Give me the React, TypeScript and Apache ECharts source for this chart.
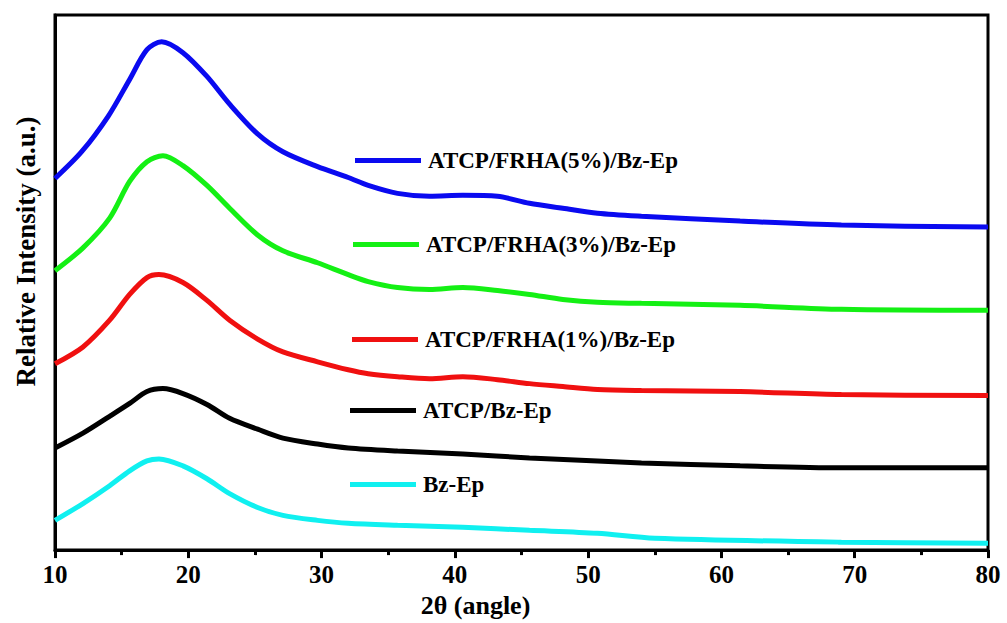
import React, { useEffect, useRef } from "react";
import * as echarts from "echarts";

const xTicks = [10, 20, 30, 40, 50, 60, 70, 80];

const seriesNames = [
  "ATCP/FRHA(5%)/Bz-Ep",
  "ATCP/FRHA(3%)/Bz-Ep",
  "ATCP/FRHA(1%)/Bz-Ep",
  "ATCP/Bz-Ep",
  "Bz-Ep",
];
const seriesColors = ["#0a0af0", "#14f014", "#f01010", "#000000", "#10f0f0"];

const frha5: number[][] = [
  [10, 375], [12, 402], [14, 438], [15.6, 475], [16.9, 505], [18, 513], [19.6, 502],
  [21.4, 478], [23.1, 450], [25.2, 420], [27.1, 402], [29.7, 387], [32, 376],
  [33.5, 368], [35.7, 360], [38.1, 357], [40.6, 358], [43.2, 357], [45.6, 350],
  [48.1, 345], [50.7, 340], [54, 337], [61.4, 332], [69, 328], [80, 326],
];
const frha3: number[][] = [
  [10, 282], [12.1, 305], [14.1, 335], [15.6, 372], [16.9, 392], [18.1, 398],
  [19.6, 388], [21.4, 368], [23.1, 345], [25.2, 318], [27.1, 302], [29.7, 290],
  [32, 278], [33.5, 271], [35.7, 265], [38.1, 263], [40.6, 265], [43.2, 262],
  [45.6, 258], [48.1, 253], [50.7, 250], [54, 249], [61.4, 247], [69, 243], [80, 242],
];
const frha1: number[][] = [
  [10, 188], [12.1, 205], [14.1, 232], [15.6, 258], [16.9, 275], [17.8, 278],
  [19.6, 270], [21.4, 252], [23.1, 232], [25.2, 213], [27.1, 200], [29.7, 190],
  [32, 182], [33.5, 178], [35.7, 175], [38.1, 173], [40.6, 175], [43.2, 172],
  [45.6, 168], [48.1, 165], [50.7, 162], [54, 161], [61.4, 160], [69, 157], [80, 156],
];
const atcp: number[][] = [
  [10, 103], [12.1, 118], [14.1, 135], [15.6, 148], [16.9, 160], [18.1, 163],
  [19.6, 158], [21.4, 147], [23.1, 133], [25.2, 122], [27.1, 113], [29.7, 107],
  [32, 103], [35.7, 100], [40.6, 97], [45.6, 93], [50.7, 90], [54, 88],
  [61.4, 85], [69, 83], [80, 83],
];
const bzep: number[][] = [
  [10, 30], [12.1, 47], [14.1, 65], [15.6, 80], [16.9, 90], [17.8, 92], [19.6, 85],
  [21.4, 72], [23.1, 57], [25.2, 43], [27.1, 35], [29.7, 30], [32, 27], [35.7, 25],
  [40.6, 23], [45.6, 20], [50.7, 17], [55, 12], [69, 8], [80, 7],
];

const allData = [frha5, frha3, frha1, atcp, bzep];
const legendTops = [162, 246, 341, 412, 486];
const legendLefts = [355, 353, 352, 350, 350];

export default function App() {
  const ref = useRef<HTMLDivElement>(null);
  useEffect(() => {
    if (!ref.current) return;
    const chart = echarts.init(ref.current, null, { renderer: "svg" });
    const font = "'Liberation Serif', 'Times New Roman', serif";
    chart.setOption({
      animation: false,
      backgroundColor: "#ffffff",
      grid: {
        left: 55,
        right: 19,
        top: 15,
        bottom: 68,
        show: true,
        borderColor: "#000",
        borderWidth: 3,
      },
      legend: seriesNames.map((n, i) => ({
        data: [n],
        left: legendLefts[i],
        top: legendTops[i] - 13,
        icon: "rect",
        itemWidth: 66,
        itemHeight: 5,
        itemGap: 0,
        padding: 0,
        selectedMode: false,
        textStyle: {
          fontFamily: font,
          fontWeight: "bold",
          fontSize: 23,
          color: "#000",
          padding: [0, 0, 0, 2],
        },
      })),
      xAxis: {
        type: "value",
        min: 10,
        max: 80,
        interval: 10,
        name: "2θ (angle)",
        nameLocation: "middle",
        nameGap: 40,
        nameTextStyle: {
          fontFamily: font,
          fontWeight: "bold",
          fontSize: 26,
          color: "#000",
          padding: [0, 92, 0, 0],
        },
        axisLine: { lineStyle: { color: "#000", width: 3 } },
        axisTick: { show: true, length: 8, lineStyle: { color: "#000", width: 3 } },
        minorTick: { show: true, splitNumber: 2, length: 5, lineStyle: { color: "#000", width: 3 } },
        splitLine: { show: false },
        axisLabel: {
          fontFamily: font,
          fontWeight: "bold",
          fontSize: 25,
          color: "#000",
          margin: 12,
          formatter: (v: number) => (xTicks.includes(v) ? String(v) : ""),
        },
      },
      yAxis: {
        type: "value",
        min: 0,
        max: 540,
        name: "Relative Intensity (a.u.)",
        nameLocation: "middle",
        nameGap: 16,
        nameTextStyle: {
          fontFamily: font,
          fontWeight: "bold",
          fontSize: 27,
          color: "#000",
          padding: [0, 0, 0, 62],
        },
        axisLine: { show: true, lineStyle: { color: "#000", width: 3 } },
        axisTick: { show: false },
        axisLabel: { show: false },
        splitLine: { show: false },
      },
      series: allData.map((d, i) => ({
        name: seriesNames[i],
        type: "line",
        data: d,
        smooth: 0.3,
        symbol: "none",
        lineStyle: { color: seriesColors[i], width: 5 },
        itemStyle: { color: seriesColors[i] },
      })),
    });
    return () => chart.dispose();
  }, []);
  return (
    <div
      ref={ref}
      style={{ position: "fixed", left: 0, top: 0, width: 1007, height: 623, background: "#fff" }}
    />
  );
}
